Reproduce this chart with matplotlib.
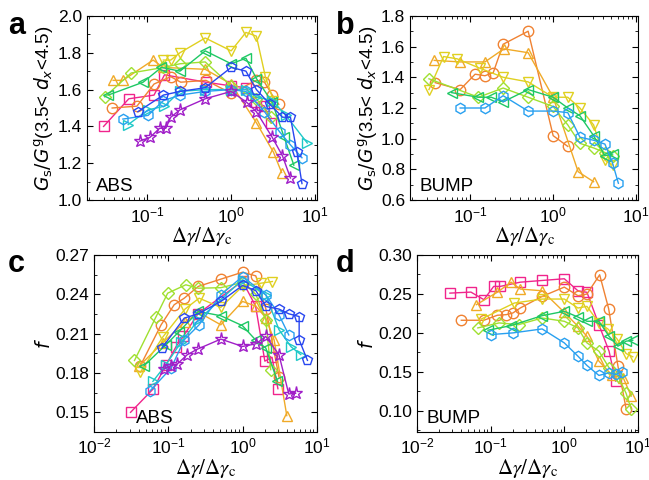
import matplotlib
matplotlib.use("Agg")
import matplotlib.pyplot as plt
from matplotlib.ticker import MultipleLocator, LogLocator, NullFormatter

plt.rcParams['font.family'] = ['Liberation Sans', 'DejaVu Sans']
plt.rcParams['mathtext.fontset'] = 'dejavusans'

# colours / markers of the series
col = {'sq': '#f0248c', 'ci': '#f08232', 'tu': '#f0aa28', 'td': '#e0d020',
       'di': '#a0e030', 'tl': '#1ec864', 'tr': '#1ec8c8', 'hx': '#28a0f0',
       'pe': '#2846f0', 'st': '#a01ec8'}
mk = {'sq': 's', 'ci': 'o', 'tu': '^', 'td': 'v', 'di': 'D', 'tl': '<',
      'tr': '>', 'hx': 'h', 'pe': 'p', 'st': '*'}

# ---- panel a : ABS, Gs/Gg
a_sq_x = [0.03, 0.06, 0.12, 0.16, 0.5, 1.0, 1.5, 2.0, 2.5, 3.0]
a_sq_y = [1.40, 1.55, 1.57, 1.68, 1.64, 1.62, 1.61, 1.53, 1.51, 1.42]
a_ci_x = [0.038, 0.075, 0.12, 0.19, 0.25, 0.5, 1.0, 2.0, 2.5, 3.1, 3.7]
a_ci_y = [1.50, 1.51, 1.63, 1.67, 1.64, 1.65, 1.58, 1.65, 1.64, 1.57, 1.52]
a_tu_x = [0.039, 0.051, 0.117, 0.155, 0.49, 1.0, 2.0, 3.2, 4.0]
a_tu_y = [1.65, 1.65, 1.76, 1.72, 1.71, 1.63, 1.42, 1.26, 1.15]
a_td_x = [0.155, 0.19, 0.245, 0.49, 1.0, 1.5, 2.0, 2.56, 3.2]
a_td_y = [1.76, 1.76, 1.80, 1.88, 1.81, 1.91, 1.89, 1.67, 1.54]
a_di_x = [0.031, 0.064, 0.155, 0.245, 0.49, 1.0, 2.0, 3.0]
a_di_y = [1.56, 1.69, 1.72, 1.74, 1.75, 1.62, 1.55, 1.45]
a_tl_x = [0.034, 0.089, 0.147, 0.245, 0.49, 1.0, 1.5, 2.0, 3.1, 4.3, 5.6]
a_tl_y = [1.57, 1.64, 1.72, 1.70, 1.81, 1.74, 1.77, 1.66, 1.53, 1.34, 1.19]
a_tr_x = [0.059, 0.102, 0.16, 0.245, 0.49, 1.0, 1.5, 2.0, 3.1, 4.5, 8.1]
a_tr_y = [1.41, 1.49, 1.51, 1.59, 1.60, 1.60, 1.60, 1.56, 1.54, 1.46, 1.31]
a_hx_x = [0.051, 0.102, 0.155, 0.245, 0.49, 1.0, 1.5, 2.5, 3.8, 5.1, 7.0]
a_hx_y = [1.44, 1.46, 1.54, 1.57, 1.59, 1.60, 1.59, 1.48, 1.37, 1.30, 1.23]
a_pe_x = [0.077, 0.155, 0.245, 0.49, 1.0, 1.5, 2.0, 2.9, 4.1, 5.1, 6.1, 7.0]
a_pe_y = [1.48, 1.57, 1.59, 1.61, 1.72, 1.70, 1.60, 1.52, 1.45, 1.45, 1.26, 1.09]
a_st_x = [0.081, 0.107, 0.14, 0.166, 0.19, 0.245, 0.49, 1.0, 1.54, 2.0, 3.1, 4.1, 5.1]
a_st_y = [1.32, 1.34, 1.39, 1.39, 1.45, 1.49, 1.55, 1.59, 1.53, 1.48, 1.34, 1.24, 1.12]

# ---- panel b : BUMP, Gs/Gg
b_ci_x = [0.038, 0.076, 0.115, 0.151, 0.19, 0.25, 0.5, 1.0, 1.5]
b_ci_y = [1.365, 1.32, 1.42, 1.41, 1.43, 1.615, 1.70, 1.02, 0.95]
b_tu_x = [0.037, 0.076, 0.151, 0.255, 0.5, 1.0, 2.0, 3.07]
b_tu_y = [1.51, 1.50, 1.50, 1.585, 1.56, 1.27, 0.785, 0.72]
b_td_x = [0.032, 0.048, 0.07, 0.13, 0.25, 0.5, 1.0, 1.5, 2.1, 3.07, 4.2, 5.2]
b_td_y = [1.32, 1.535, 1.52, 1.46, 1.40, 1.37, 1.27, 1.27, 1.20, 1.09, 0.86, 0.83]
b_di_x = [0.032, 0.126, 0.25, 0.5, 1.0, 1.5, 2.1, 3.07, 4.2, 5.2]
b_di_y = [1.39, 1.27, 1.33, 1.27, 1.21, 1.09, 0.97, 0.94, 0.91, 0.89]
b_tl_x = [0.06, 0.126, 0.18, 0.25, 0.5, 1.0, 1.5, 2.1, 3.07, 4.2, 5.2]
b_tl_y = [1.30, 1.27, 1.27, 1.24, 1.32, 1.27, 1.20, 1.15, 1.02, 0.89, 0.90]
b_hx_x = [0.076, 0.151, 0.25, 0.5, 1.0, 1.5, 2.1, 3.07, 4.2, 5.2, 6.1]
b_hx_y = [1.20, 1.20, 1.28, 1.18, 1.18, 1.17, 1.01, 0.99, 0.965, 0.84, 0.71]

# ---- panel c : ABS, f
c_sq_x = [0.031, 0.063, 0.093, 0.127, 0.16, 0.25, 1.0, 1.5, 2.0, 2.5, 3.0]
c_sq_y = [0.150, 0.168, 0.186, 0.200, 0.208, 0.225, 0.250, 0.231, 0.189, 0.192, 0.168]
c_ci_x = [0.042, 0.08, 0.12, 0.164, 0.254, 0.51, 1.0, 1.51, 2.06, 3.1]
c_ci_y = [0.1855, 0.2167, 0.232, 0.237, 0.246, 0.2515, 0.2568, 0.254, 0.229, 0.177]
c_tu_x = [0.04, 0.084, 0.168, 0.26, 0.51, 1.0, 1.51, 2.06, 2.67, 3.95]
c_tu_y = [0.185, 0.203, 0.219, 0.226, 0.2167, 0.2345, 0.231, 0.222, 0.205, 0.1475]
c_td_x = [0.042, 0.084, 0.168, 0.26, 0.51, 1.0, 1.76, 2.53]
c_td_y = [0.1805, 0.2073, 0.2287, 0.237, 0.230, 0.246, 0.2484, 0.2497]
c_di_x = [0.035, 0.068, 0.098, 0.172, 0.254, 0.51, 1.0, 1.51, 2.06, 2.4]
c_di_y = [0.1895, 0.2226, 0.2408, 0.2472, 0.2446, 0.245, 0.249, 0.240, 0.2205, 0.1825]
c_tl_x = [0.047, 0.093, 0.14, 0.254, 0.51, 1.0, 1.51, 2.06, 2.96]
c_tl_y = [0.1855, 0.2015, 0.2116, 0.2269, 0.2236, 0.216, 0.205, 0.199, 0.1736]
c_tr_x = [0.062, 0.093, 0.148, 0.254, 1.0, 2.06, 3.1, 4.5, 6.1]
c_tr_y = [0.1736, 0.1863, 0.2033, 0.2205, 0.251, 0.2396, 0.213, 0.200, 0.194]
c_hx_x = [0.056, 0.109, 0.164, 0.26, 0.51, 1.0, 2.06, 3.1, 4.2]
c_hx_y = [0.166, 0.1837, 0.2053, 0.2167, 0.2396, 0.2535, 0.2396, 0.2243, 0.209]
c_pe_x = [0.082, 0.164, 0.254, 0.51, 1.0, 1.51, 2.06, 3.1, 4.2, 5.8, 5.8, 7.5]
c_pe_y = [0.199, 0.2218, 0.2251, 0.2345, 0.2467, 0.2428, 0.2307, 0.2287, 0.2251, 0.223, 0.2053, 0.1896]
c_st_x = [0.087, 0.109, 0.133, 0.18, 0.248, 0.51, 1.0, 1.51, 2.06, 3.1, 4.2, 5.2]
c_st_y = [0.183, 0.1855, 0.187, 0.1939, 0.1982, 0.2058, 0.2002, 0.2022, 0.2078, 0.1939, 0.164, 0.1645]

# ---- panel d : BUMP, f
d_sq_x = [0.028, 0.054, 0.081, 0.11, 0.135, 0.252, 0.5, 1.0, 1.53, 2.03, 2.95, 4.05, 4.97]
d_sq_y = [0.251, 0.2523, 0.2426, 0.2596, 0.2596, 0.265, 0.2672, 0.2694, 0.254, 0.252, 0.2106, 0.1766, 0.1383]
d_ci_x = [0.04, 0.081, 0.123, 0.163, 0.2, 0.252, 0.5, 1.0, 1.53, 2.03, 3.02, 4.0, 5.35, 6.9]
d_ci_y = [0.2162, 0.2162, 0.2226, 0.2234, 0.2255, 0.2319, 0.2468, 0.2587, 0.2477, 0.2498, 0.2745, 0.231, 0.1574, 0.103]
d_tu_x = [0.064, 0.122, 0.19, 0.252, 0.5, 1.0, 1.53, 2.03, 2.95, 4.5, 6.3, 8.1]
d_tu_y = [0.2362, 0.2519, 0.265, 0.2562, 0.254, 0.2264, 0.2085, 0.1957, 0.1638, 0.1455, 0.1426, 0.119]
d_td_x = [0.075, 0.21, 0.5, 1.0, 1.53, 2.03, 2.95, 3.9, 5.2, 6.9, 8.5]
d_td_y = [0.2179, 0.2383, 0.2434, 0.2434, 0.2319, 0.234, 0.2128, 0.2051, 0.1923, 0.1736, 0.1694]
d_di_x = [0.067, 0.13, 0.24, 0.5, 1.0, 1.53, 2.03, 2.95, 4.05, 5.35, 6.9, 8.1]
d_di_y = [0.2064, 0.2128, 0.2106, 0.2191, 0.2149, 0.2064, 0.1872, 0.1766, 0.1553, 0.1447, 0.1226, 0.102]
d_tl_x = [0.092, 0.19, 0.5, 1.0, 1.53, 2.03, 2.95, 4.05, 5.35, 6.9, 8.5]
d_tl_y = [0.2034, 0.2094, 0.2221, 0.2277, 0.2204, 0.2149, 0.2149, 0.1957, 0.183, 0.1894, 0.1906]
d_hx_x = [0.102, 0.2, 0.5, 1.0, 1.53, 2.03, 2.95, 4.05, 4.97, 6.1]
d_hx_y = [0.1979, 0.2, 0.2051, 0.1872, 0.1702, 0.1583, 0.1455, 0.1489, 0.1468, 0.1502]

panels = {
    'a': [('sq', a_sq_x, a_sq_y), ('ci', a_ci_x, a_ci_y), ('tu', a_tu_x, a_tu_y),
          ('td', a_td_x, a_td_y), ('di', a_di_x, a_di_y), ('tl', a_tl_x, a_tl_y),
          ('tr', a_tr_x, a_tr_y), ('hx', a_hx_x, a_hx_y), ('pe', a_pe_x, a_pe_y),
          ('st', a_st_x, a_st_y)],
    'b': [('ci', b_ci_x, b_ci_y), ('tu', b_tu_x, b_tu_y), ('td', b_td_x, b_td_y),
          ('di', b_di_x, b_di_y), ('tl', b_tl_x, b_tl_y), ('hx', b_hx_x, b_hx_y)],
    'c': [('sq', c_sq_x, c_sq_y), ('ci', c_ci_x, c_ci_y), ('tu', c_tu_x, c_tu_y),
          ('td', c_td_x, c_td_y), ('di', c_di_x, c_di_y), ('tl', c_tl_x, c_tl_y),
          ('tr', c_tr_x, c_tr_y), ('hx', c_hx_x, c_hx_y), ('pe', c_pe_x, c_pe_y),
          ('st', c_st_x, c_st_y)],
    'd': [('sq', d_sq_x, d_sq_y), ('ci', d_ci_x, d_ci_y), ('tu', d_tu_x, d_tu_y),
          ('td', d_td_x, d_td_y), ('di', d_di_x, d_di_y), ('tl', d_tl_x, d_tl_y),
          ('hx', d_hx_x, d_hx_y)],
}

fig = plt.figure(figsize=(6.49, 4.80), dpi=100)
rects = {'a': [0.134, 0.583, 0.354, 0.384], 'b': [0.632, 0.583, 0.351, 0.384],
         'c': [0.145, 0.100, 0.343, 0.369], 'd': [0.6425, 0.100, 0.3405, 0.369]}
ylims = {'a': (1.0, 2.0), 'b': (0.6, 1.8), 'c': (0.135, 0.27), 'd': (0.073, 0.30)}
xlims = {'a': (0.019, 10.5), 'b': (0.019, 10.5), 'c': (0.01, 10), 'd': (0.01, 10)}
yticks = {'a': (0.2, 0.1), 'b': (0.2, 0.1), 'c': (0.03, 0.015), 'd': (0.05, 0.025)}
yfmt = {'a': '%.1f', 'b': '%.1f', 'c': '%.2f', 'd': '%.2f'}
gs_label = r'$G_{\mathrm{s}}/G^{\mathrm{g}}$(3.5< $d_x$<4.5)'
ylabels = {'a': gs_label, 'b': gs_label, 'c': r'$f$', 'd': r'$f$'}
tags = {'a': 'ABS', 'b': 'BUMP', 'c': 'ABS', 'd': 'BUMP'}
tag_x = {'a': 0.04, 'b': 0.04, 'c': 0.19, 'd': 0.045}
letter_pos = {'a': (0.012, 0.978), 'b': (0.517, 0.978), 'c': (0.012, 0.482), 'd': (0.517, 0.482)}

for key, rect in rects.items():
    ax = fig.add_axes(rect)
    for name, xs, ys in panels[key]:
        ms = 9.5 if name == 'st' else (6 if name == 'di' else 7.5)
        ax.plot(xs, ys, color=col[name], marker=mk[name], ms=ms, mfc='none',
                mew=1.0, lw=1.0)
    ax.set_xscale('log')
    ax.set_xlim(*xlims[key])
    ax.set_ylim(*ylims[key])
    ax.yaxis.set_major_locator(MultipleLocator(yticks[key][0]))
    ax.yaxis.set_minor_locator(MultipleLocator(yticks[key][1]))
    ax.yaxis.set_major_formatter(plt.FormatStrFormatter(yfmt[key]))
    ax.xaxis.set_major_locator(LogLocator(base=10, numticks=10))
    ax.xaxis.set_minor_locator(LogLocator(base=10, subs=range(2, 10), numticks=10))
    ax.xaxis.set_minor_formatter(NullFormatter())
    ax.tick_params(which='both', direction='in', top=True, right=True, labelsize=12.5)
    ax.tick_params(which='major', length=4)
    ax.tick_params(which='minor', length=2)
    ax.set_xlabel(r'$\Delta\gamma/\Delta\gamma_{\mathrm{c}}$', fontsize=15,
                  math_fontfamily='stix', labelpad=0)
    ax.set_ylabel(ylabels[key], fontsize=13.5, labelpad=1)
    ax.text(tag_x[key], 0.03, tags[key], transform=ax.transAxes, fontsize=13.5,
            ha='left', va='bottom')
    fig.text(letter_pos[key][0], letter_pos[key][1], key, fontsize=22,
             fontweight='bold', ha='left', va='top')

fig.savefig('out.png', dpi=100)
